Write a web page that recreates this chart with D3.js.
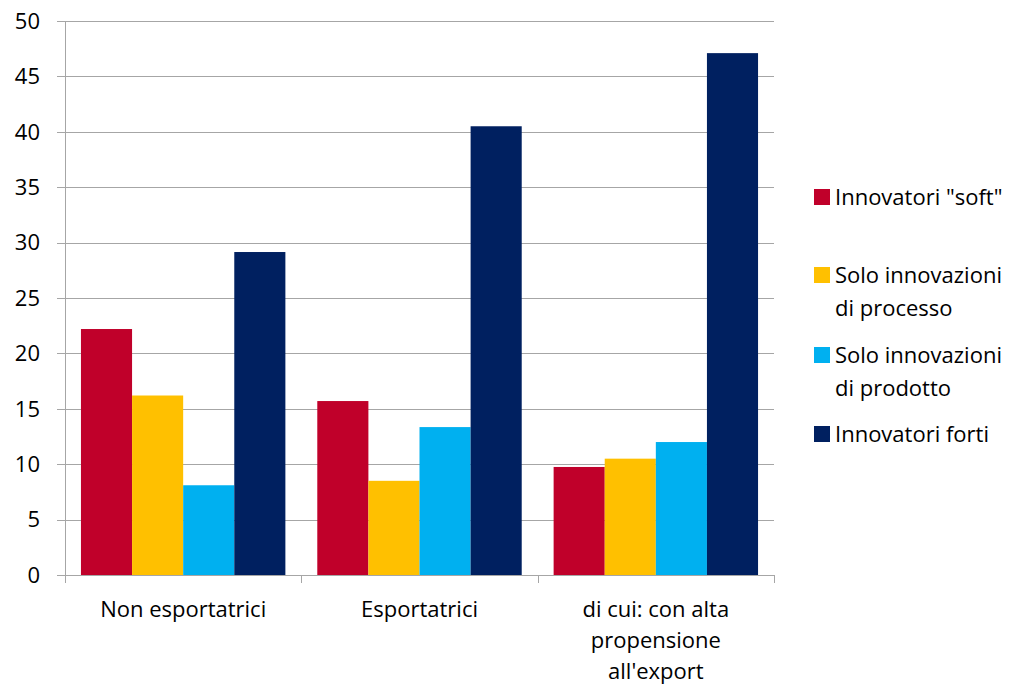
<!DOCTYPE html>
<html>
<head>
<meta charset="utf-8">
<script src="https://cdn.jsdelivr.net/npm/d3@7"></script>
<style>
  body { margin: 0; background: #fff; }
  text { font-family: "Open Sans", "Noto Sans", sans-serif; fill: #000; }
</style>
</head>
<body>
<div id="chart"></div>
<script>
// categories and series
const categories = ['Non esportatrici', 'Esportatrici', "di cui: con alta propensione all'export"];
const categoryLines = [['Non esportatrici'], ['Esportatrici'], ['di cui: con alta', 'propensione', "all'export"]];
const seriesNames = ['Innovatori "soft"', 'Solo innovazioni di processo', 'Solo innovazioni di prodotto', 'Innovatori forti'];
const legendLines = [['Innovatori "soft"'], ['Solo innovazioni', 'di processo'], ['Solo innovazioni', 'di prodotto'], ['Innovatori forti']];
const seriesColors = ['#c0002a', '#ffc000', '#00b0f0', '#002060'];
const soft = [22.2, 15.7, 9.75];
const processo = [16.2, 8.5, 10.5];
const prodotto = [8.1, 13.35, 12.0];
const forti = [29.15, 40.5, 47.1];
const yTicks = [0, 5, 10, 15, 20, 25, 30, 35, 40, 45, 50];

const seriesValues = [soft, processo, prodotto, forti];

const dimension = { width: 1018, height: 686 };
const margin = { left: 65, right: 244, top: 21, bottom: 111 };
const plotW = dimension.width - margin.left - margin.right;
const plotH = dimension.height - margin.top - margin.bottom;
const fontSize = '22px';

const svg = d3.select('#chart')
  .append('svg')
  .attr('width', dimension.width)
  .attr('height', dimension.height);

const graph = svg.append('g')
  .attr('transform', `translate(${margin.left},${margin.top})`);

// scales
const x0 = d3.scaleBand()
  .domain(categories)
  .range([0, plotW])
  .paddingInner(0.135)
  .paddingOuter(0.0675);
const x1 = d3.scaleBand()
  .domain(seriesNames)
  .range([0, x0.bandwidth()]);
const y = d3.scaleLinear()
  .domain([0, 50])
  .range([plotH, 0]);

// gridlines
graph.append('g')
  .selectAll('line')
  .data(yTicks)
  .join('line')
  .attr('x1', -8)
  .attr('x2', plotW)
  .attr('y1', d => Math.round(y(d)) + 0.5)
  .attr('y2', d => Math.round(y(d)) + 0.5)
  .attr('stroke', '#a6a6a6')
  .attr('stroke-width', 1);

// y labels
graph.append('g')
  .selectAll('text')
  .data(yTicks)
  .join('text')
  .attr('x', -25)
  .attr('y', d => y(d))
  .attr('dy', '0.35em')
  .attr('text-anchor', 'end')
  .style('font-size', fontSize)
  .text(d => d);

// bars
const groups = graph.append('g')
  .selectAll('g')
  .data(categories)
  .join('g')
  .attr('transform', d => `translate(${x0(d)},0)`);

groups.selectAll('rect')
  .data((d, i) => seriesNames.map((s, j) => ({ s, j, v: seriesValues[j][i] })))
  .join('rect')
  .attr('x', d => x1(d.s))
  .attr('width', x1.bandwidth())
  .attr('y', d => y(d.v))
  .attr('height', d => plotH - y(d.v))
  .attr('fill', d => seriesColors[d.j]);

// axes lines
graph.append('line')
  .attr('x1', 0.5).attr('x2', 0.5)
  .attr('y1', 0).attr('y2', plotH + 8)
  .attr('stroke', '#a6a6a6');
graph.append('line')
  .attr('x1', 0).attr('x2', plotW)
  .attr('y1', plotH + 0.5).attr('y2', plotH + 0.5)
  .attr('stroke', '#a6a6a6');

// category tick marks
const tickXs = categories.map(c => x0(c) - x0.step() * x0.paddingInner() / 2).concat([plotW]);
graph.append('g')
  .selectAll('line')
  .data(tickXs)
  .join('line')
  .attr('x1', d => Math.round(d) + 0.5)
  .attr('x2', d => Math.round(d) + 0.5)
  .attr('y1', plotH)
  .attr('y2', plotH + 8)
  .attr('stroke', '#a6a6a6');

// category labels
const catLabels = graph.append('g')
  .selectAll('text')
  .data(categories)
  .join('text')
  .attr('text-anchor', 'middle')
  .style('font-size', fontSize)
  .attr('transform', d => `translate(${x0(d) + x0.bandwidth() / 2},${plotH + 34})`);
catLabels.selectAll('tspan')
  .data((d, i) => categoryLines[i])
  .join('tspan')
  .attr('x', 0)
  .attr('y', (d, i) => i * 31)
  .attr('dy', '0.35em')
  .text(d => d);

// legend
const legendY = [197, 275, 355, 434];
const legend = svg.append('g')
  .selectAll('g')
  .data(seriesNames)
  .join('g')
  .attr('transform', (d, i) => `translate(814,${legendY[i]})`);
legend.append('rect')
  .attr('x', 0)
  .attr('y', -8)
  .attr('width', 16)
  .attr('height', 16)
  .attr('fill', (d, i) => seriesColors[i]);
legend.append('text')
  .style('font-size', fontSize)
  .selectAll('tspan')
  .data((d, i) => legendLines[i])
  .join('tspan')
  .attr('x', 21)
  .attr('y', (d, i) => i * 33)
  .attr('dy', '0.35em')
  .text(d => d);
</script>
</body>
</html>
